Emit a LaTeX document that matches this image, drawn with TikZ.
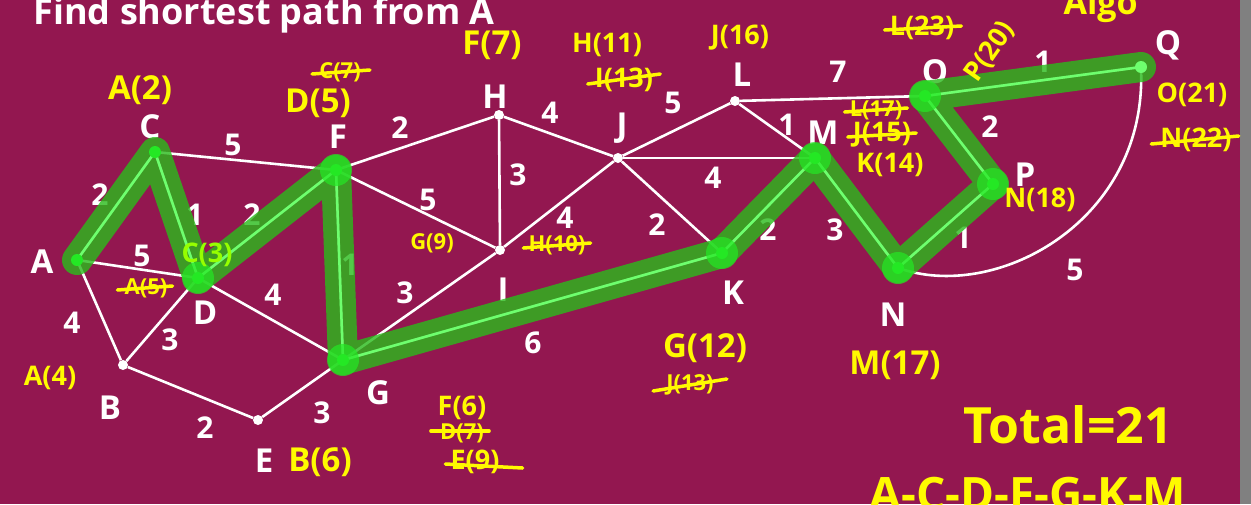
\documentclass[tikz,border=0pt]{standalone}
\usepackage{fontspec}
\setmainfont{Open Sans}
\definecolor{board}{RGB}{147,23,80}
\definecolor{hilite}{RGB}{41,188,27}
\definecolor{hiline}{RGB}{110,255,110}
\definecolor{hidot}{RGB}{36,232,36}
\definecolor{chalk}{RGB}{255,250,0}
\definecolor{lime}{RGB}{150,255,0}

\begin{document}
\begin{tikzpicture}[x=1pt,y=-1pt]
\tikzset{
  vertex/.style={circle,fill=white,minimum size=10pt,inner sep=0pt},
  edge/.style={white,line width=2.6pt},
  vname/.style={white,font=\bfseries\fontsize{33}{33}\selectfont},
  weight/.style={white,font=\bfseries\fontsize{30}{30}\selectfont},
  tag/.style={chalk,font=\bfseries\fontsize{27}{27}\selectfont,inner sep=1pt},
  smalltag/.style={tag,font=\bfseries\fontsize{22}{22}\selectfont},
  bigtag/.style={tag,font=\bfseries\fontsize{33}{33}\selectfont},
  struck/.style={chalk,line width=3.5pt,line cap=round},
  route/.style={hilite,opacity=0.8,line width=30pt,line cap=round,line join=round},
  routeline/.style={hiline,line width=2.5pt},
  blob/.style={circle,fill=hidot,opacity=0.7,minimum size=32pt,inner sep=0pt},
  gdot/.style={circle,fill=hidot,minimum size=12pt,inner sep=0pt}
}
\fill[board] (0,0) rectangle (1251,504);
\fill[gray] (1240,0) rectangle (1251,504);
\useasboundingbox (0,0) rectangle (1251,504);
% heading, cut by the top edge
\node[white,font=\bfseries\fontsize{36}{36}\selectfont,anchor=base west] (title) at (30,24) {Find shortest path from A};
\node[chalk,font=\bfseries\fontsize{34}{34}\selectfont,anchor=base west] (algo) at (1060,14) {Algo};
% vertices
\node[vertex] (n_A) at (77,260) {};
\node[vertex] (n_C) at (155,152) {};
\node[vertex] (n_D) at (198,278) {};
\node[vertex] (n_B) at (123,365) {};
\node[vertex] (n_E) at (258,420) {};
\node[vertex] (n_F) at (336,170) {};
\node[vertex] (n_G) at (343,360) {};
\node[vertex] (n_H) at (499,115) {};
\node[vertex] (n_I) at (500,250) {};
\node[vertex] (n_J) at (618,158) {};
\node[vertex] (n_L) at (735,101) {};
\node[vertex] (n_K) at (722,253) {};
\node[vertex] (n_M) at (815,158) {};
\node[vertex] (n_N) at (898,268) {};
\node[vertex] (n_O) at (925,96) {};
\node[vertex] (n_P) at (993,184) {};
\node[vertex] (n_Q) at (1141,67) {};
% edges
\draw[edge] (n_A) -- (n_C);
\draw[edge] (n_A) -- (n_D);
\draw[edge] (n_A) -- (n_B);
\draw[edge] (n_C) -- (n_F);
\draw[edge] (n_C) -- (n_D);
\draw[edge] (n_D) -- (n_F);
\draw[edge] (n_D) -- (n_B);
\draw[edge] (n_D) -- (n_G);
\draw[edge] (n_B) -- (n_E);
\draw[edge] (n_E) -- (n_G);
\draw[edge] (n_F) -- (n_G);
\draw[edge] (n_F) -- (n_H);
\draw[edge] (n_F) -- (n_I);
\draw[edge] (n_G) -- (n_I);
\draw[edge] (n_G) -- (n_K);
\draw[edge] (n_H) -- (n_I);
\draw[edge] (n_H) -- (n_J);
\draw[edge] (n_I) -- (n_J);
\draw[edge] (n_J) -- (n_L);
\draw[edge] (n_J) -- (n_M);
\draw[edge] (n_J) -- (n_K);
\draw[edge] (n_L) -- (n_M);
\draw[edge] (n_L) -- (n_O);
\draw[edge] (n_K) -- (n_M);
\draw[edge] (n_M) -- (n_N);
\draw[edge] (n_N) -- (n_P);
\draw[edge] (n_O) -- (n_P);
\draw[edge] (n_O) -- (n_Q);
\draw[edge] (n_N) .. controls (1000,300) and (1145,220) .. (n_Q);
% vertex names
\node[vname] (l_A) at (42,262) {A};
\node[vname] (l_C) at (150,127) {C};
\node[vname] (l_D) at (205,313) {D};
\node[vname] (l_B) at (110,408) {B};
\node[vname] (l_E) at (264,461) {E};
\node[vname] (l_F) at (338,137) {F};
\node[vname] (l_G) at (378,393) {G};
\node[vname] (l_H) at (495,97) {H};
\node[vname] (l_I) at (503,290) {I};
\node[vname] (l_J) at (622,128) {J};
\node[vname] (l_L) at (742,75) {L};
\node[vname] (l_K) at (733,293) {K};
\node[vname] (l_M) at (823,133) {M};
\node[vname] (l_N) at (893,315) {N};
\node[vname] (l_O) at (935,72) {O};
\node[vname] (l_P) at (1025,175) {P};
\node[vname] (l_Q) at (1168,45) {Q};
% weights
\node[weight] (w_AC) at (100,195) {2};
\node[weight] (w_CF) at (233,145) {5};
\node[weight] (w_CD) at (195,215) {1};
\node[weight] (w_DF) at (252,215) {2};
\node[weight] (w_AD) at (142,256) {5};
\node[weight] (w_AB) at (72,323) {4};
\node[weight] (w_BD) at (170,340) {3};
\node[weight] (w_DG) at (273,295) {4};
\node[weight] (w_BE) at (205,428) {2};
\node[weight] (w_EG) at (322,413) {3};
\node[weight] (w_FG) at (350,265) {1};
\node[weight] (w_FH) at (400,128) {2};
\node[weight] (w_FI) at (428,200) {5};
\node[weight] (w_GI) at (405,293) {3};
\node[weight] (w_GK) at (533,343) {6};
\node[weight] (w_HI) at (518,175) {3};
\node[weight] (w_HJ) at (550,113) {4};
\node[weight] (w_IJ) at (565,218) {4};
\node[weight] (w_JL) at (673,103) {5};
\node[weight] (w_JM) at (713,178) {4};
\node[weight] (w_JK) at (657,225) {2};
\node[weight] (w_LO) at (838,72) {7};
\node[weight] (w_LM) at (787,125) {1};
\node[weight] (w_KM) at (768,230) {2};
\node[weight] (w_MN) at (835,230) {3};
\node[weight] (w_NP) at (963,238) {1};
\node[weight] (w_OP) at (990,127) {2};
\node[weight] (w_OQ) at (1043,62) {1};
\node[weight] (w_NQ) at (1075,270) {5};
% shortest route
\draw[route] (n_A.center) -- (n_C.center) -- (n_D.center) -- (n_F.center) -- (n_G.center) -- (n_K.center) -- (n_M.center) -- (n_N.center) -- (n_P.center) -- (n_O.center) -- (n_Q.center);
\draw[routeline] (n_A.center) -- (n_C.center) -- (n_D.center) -- (n_F.center) -- (n_G.center) -- (n_K.center) -- (n_M.center) -- (n_N.center) -- (n_P.center) -- (n_O.center) -- (n_Q.center);
\node[blob] at (n_D) {};
\node[blob] at (n_F) {};
\node[blob] at (n_G) {};
\node[blob] at (n_K) {};
\node[blob] at (n_M) {};
\node[blob] at (n_N) {};
\node[blob] at (n_P) {};
\node[blob] at (n_O) {};
\node[gdot] at (n_A) {};
\node[gdot] at (n_C) {};
\node[gdot] at (n_D) {};
\node[gdot] at (n_F) {};
\node[gdot] at (n_G) {};
\node[gdot] at (n_K) {};
\node[gdot] at (n_M) {};
\node[gdot] at (n_N) {};
\node[gdot] at (n_P) {};
\node[gdot] at (n_O) {};
\node[gdot,fill=hiline] at (n_Q) {};
% running distances
\node[tag,lime] (t_C3) at (207,255) {C(3)};
\node[bigtag] (t_A2) at (140,90) {A(2)};
\node[smalltag] (t_A5) at (146,288) {A(5)};
\node[tag] (t_A4) at (50,378) {A(4)};
\node[bigtag] (t_B6) at (320,462) {B(6)};
\node[smalltag] (t_C7) at (340,72) {C(7)};
\node[bigtag] (t_D5) at (318,103) {D(5)};
\node[bigtag] (t_F7) at (492,45) {F(7)};
\node[smalltag] (t_G9) at (432,243) {G(9)};
\node[smalltag] (t_H10) at (557,245) {H(10)};
\node[tag] (t_H11) at (607,45) {H(11)};
\node[tag] (t_I13) at (624,80) {I(13)};
\node[tag] (t_J16) at (740,38) {J(16)};
\node[bigtag] (t_G12) at (705,348) {G(12)};
\node[smalltag] (t_J13) at (690,385) {J(13)};
\node[tag] (t_F6) at (462,408) {F(6)};
\node[smalltag] (t_D7) at (462,433) {D(7)};
\node[tag] (t_E9) at (475,462) {E(9)};
\node[smalltag] (t_L17) at (876,110) {L(17)};
\node[tag] (t_J15) at (882,135) {J(15)};
\node[tag] (t_K14) at (890,165) {K(14)};
\node[bigtag] (t_M17) at (895,365) {M(17)};
\node[tag] (t_N18) at (1040,200) {N(18)};
\node[tag] (t_L23) at (922,28) {L(23)};
\node[tag,rotate=55] (t_P20) at (990,52) {P(20)};
\node[tag] (t_O21) at (1192,95) {O(21)};
\node[tag] (t_N22) at (1196,140) {N(22)};
% crossed out values
\draw[struck] ([xshift=-6pt,yshift=-2pt]t_A5.west) -- ([xshift=4pt,yshift=2pt]t_A5.east);
\draw[struck] ([xshift=-6pt,yshift=-2pt]t_C7.west) -- ([xshift=8pt,yshift=2pt]t_C7.east);
\draw[struck] ([xshift=-4pt,yshift=-3pt]t_H10.west) -- ([xshift=4pt,yshift=2pt]t_H10.east);
\draw[struck] ([xshift=-6pt,yshift=-4pt]t_I13.west) -- ([xshift=6pt,yshift=6pt]t_I13.east);
\draw[struck] ([xshift=-12pt,yshift=-6pt]t_J13.west) -- ([xshift=12pt,yshift=6pt]t_J13.east);
\draw[struck] ([xshift=-8pt,yshift=2pt]t_D7.west) -- ([xshift=4pt,yshift=2pt]t_D7.east);
\draw[struck] ([xshift=-4pt,yshift=-2pt]t_E9.west) -- ([xshift=22pt,yshift=-6pt]t_E9.east);
\draw[struck] ([xshift=-4pt,yshift=-2pt]t_L17.west) -- ([xshift=4pt,yshift=2pt]t_L17.east);
\draw[struck] ([xshift=-4pt,yshift=-2pt]t_J15.west) -- ([xshift=4pt,yshift=2pt]t_J15.east);
\draw[struck] ([xshift=-4pt,yshift=-2pt]t_L23.west) -- ([xshift=6pt,yshift=2pt]t_L23.east);
\draw[struck] ([xshift=-8pt,yshift=-4pt]t_N22.west) -- ([xshift=6pt,yshift=4pt]t_N22.east);
% result
\node[chalk,font=\bfseries\fontsize{50}{50}\selectfont] (total) at (1068,425) {Total=21};
\node[chalk,font=\bfseries\fontsize{46}{46}\selectfont,anchor=north] (order) at (1028,474) {A-C-D-F-G-K-M};
\end{tikzpicture}
\end{document}
